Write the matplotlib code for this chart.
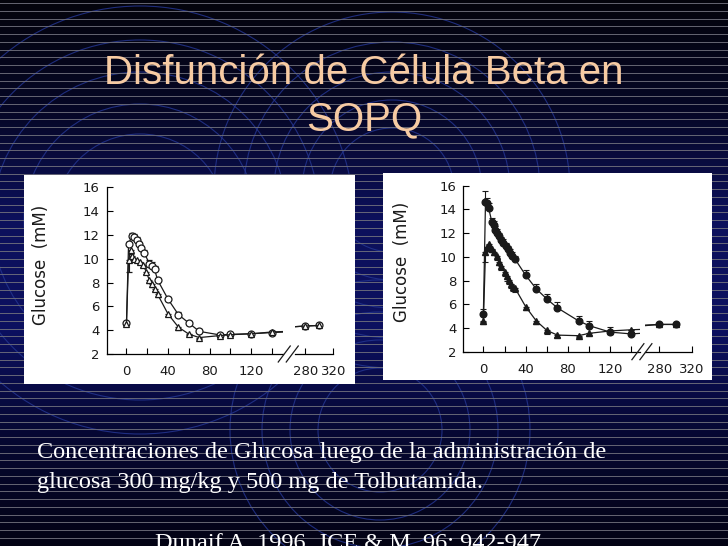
import numpy as np
import matplotlib.pyplot as plt
from matplotlib.patches import Rectangle, Circle
from matplotlib.lines import Line2D

W, H = 728, 546

#---------------------------------------------------------#
# Data (time in min, glucose in mM)
#---------------------------------------------------------#
# left panel, open symbols
t_l_circ = [0, 2, 5, 7, 10, 12, 14, 17, 22, 25, 27, 30, 40, 50, 60, 70, 90, 100, 120, 140, 280, 300]
g_l_circ = [4.6, 11.2, 11.9, 11.8, 11.6, 11.2, 10.9, 10.5, 9.6, 9.4, 9.1, 8.2, 6.6, 5.3, 4.6, 3.9, 3.6, 3.65, 3.7, 3.8, 4.35, 4.4]
e_l_circ = [0.1, 0.2, 0.3, 0.3, 0.2, 0.2, 0.2, 0.2, 0.3, 0.3, 0.3, 0.2, 0.2, 0.2, 0.2, 0.2, 0.1, 0.1, 0.1, 0.1, 0.1, 0.1]

t_l_tri = [0, 2, 4, 5, 7, 10, 13, 16, 19, 22, 25, 27, 30, 40, 50, 60, 70, 90, 100, 120, 140, 280, 300]
g_l_tri = [4.5, 9.9, 10.7, 10.2, 10.0, 9.9, 9.75, 9.5, 8.9, 8.2, 7.85, 7.5, 7.0, 5.35, 4.25, 3.67, 3.38, 3.55, 3.62, 3.7, 3.85, 4.35, 4.4]
e_l_tri = [0.1, 1.0, 0.3, 0.2, 0.2, 0.2, 0.2, 0.2, 0.2, 0.2, 0.2, 0.2, 0.2, 0.2, 0.2, 0.1, 0.1, 0.1, 0.1, 0.1, 0.1, 0.1, 0.1]

# right panel, filled symbols
t_r_circ = [0, 2, 3, 5, 8, 10, 11, 13, 15, 17, 19, 21, 23, 25, 27, 30, 40, 50, 60, 70, 90, 100, 120, 140, 280, 300]
g_r_circ = [5.2, 14.65, 14.5, 14.1, 12.95, 12.7, 12.3, 12.05, 11.75, 11.4, 11.2, 10.9, 10.65, 10.35, 10.1, 9.8, 8.45, 7.3, 6.45, 5.7, 4.6, 4.2, 3.65, 3.5, 4.3, 4.3]
e_r_circ_up = [0.4, 0.9, 0.5, 0.4, 0.3, 0.3, 0.3, 0.3, 0.3, 0.3, 0.3, 0.3, 0.3, 0.3, 0.3, 0.3, 0.4, 0.45, 0.45, 0.5, 0.45, 0.4, 0.4, 0.3, 0.1, 0.1]
e_r_circ_dn = [0.7, 0.1, 0.1, 0.1, 0.1, 0.1, 0.1, 0.1, 0.1, 0.1, 0.1, 0.1, 0.1, 0.1, 0.1, 0.1, 0.1, 0.1, 0.1, 0.1, 0.1, 0.1, 0.1, 0.1, 0.1, 0.1]

t_r_tri = [0, 2, 3, 5, 8, 10, 13, 15, 17, 20, 22, 24, 26, 28, 30, 40, 50, 60, 70, 90, 100, 120, 140, 280, 300]
g_r_tri = [4.6, 10.4, 10.8, 11.05, 10.7, 10.45, 10.05, 9.6, 9.2, 8.75, 8.35, 8.05, 7.75, 7.45, 7.35, 5.8, 4.6, 3.8, 3.4, 3.35, 3.55, 3.75, 3.85, 4.3, 4.3]
e_r_tri = [0.3, 0.8, 0.3, 0.3, 0.3, 0.3, 0.3, 0.3, 0.3, 0.35, 0.35, 0.35, 0.35, 0.35, 0.35, 0.3, 0.3, 0.3, 0.2, 0.15, 0.15, 0.15, 0.15, 0.1, 0.1]

yticks = [2, 4, 6, 8, 10, 12, 14, 16]
xticks_major = [0, 40, 80, 120]
xticks_minor = [20, 60, 100, 140]
xticks_late = [280, 320]

title_1 = 'Disfunción de Célula Beta en'
title_2 = 'SOPQ'
caption_1 = 'Concentraciones de Glucosa luego de la administración de'
caption_2 = 'glucosa 300 mg/kg y 500 mg de Tolbutamida.'
citation = 'Dunaif A, 1996, JCE & M, 96: 942-947'

#---------------------------------------------------------#
# Helpers
#---------------------------------------------------------#
def fig_rect(left, top, right, bottom):
    # pixel box (from top-left) -> figure fraction rect
    return [left / W, 1 - bottom / H, (right - left) / W, (bottom - top) / H]

sans = ['Liberation Sans', 'DejaVu Sans']
wide = ['DejaVu Sans']
serif = ['Liberation Serif', 'DejaVu Serif']

fig = plt.figure(figsize=(W / 100, H / 100), dpi=100)

#---------------------------------------------------------#
# Slide background
#---------------------------------------------------------#
bg = fig.add_axes([0, 0, 1, 1])
bg.set_xlim(0, W)
bg.set_ylim(H, 0)
bg.axis('off')

stops_y = [0, 110, 220, 330, 430, 546]
stops_c = [(4, 4, 12), (6, 7, 38), (12, 16, 92), (12, 16, 96), (6, 8, 52), (3, 3, 20)]
ys = np.arange(H)
grad = np.zeros((H, 1, 3))
for k in range(3):
    grad[:, 0, k] = np.interp(ys, stops_y, [c[k] for c in stops_c]) / 255
bg.imshow(grad, extent=[0, W, H, 0], aspect='auto', zorder=0)

for cx, cy, radii in [(140, 220, [214, 180, 148, 116, 86]),
                      (392, 190, [178, 148, 118, 90, 62]),
                      (380, 430, [150, 118, 90, 62])]:
    for r in radii:
        bg.add_patch(Circle((cx, cy), r, fill=False, ec='#23348f', lw=0.8, alpha=0.85, zorder=1))

for y in np.arange(3, H, 7.75):
    bg.axhline(y, color='#70707c', lw=0.7, alpha=0.9, zorder=2)

# white boxes holding the figures
bg.add_patch(Rectangle((24, 175), 331, 209, fc='white', ec='none', zorder=3))
bg.add_patch(Rectangle((383, 173), 329, 207, fc='white', ec='none', zorder=3))

#---------------------------------------------------------#
# Title and captions
#---------------------------------------------------------#
peach = '#f7cba3'
fig.text(364 / W, 1 - 73 / H, title_1, ha='center', va='center', color=peach, fontsize=29, family=sans)
fig.text(364 / W, 1 - 119 / H, title_2, ha='center', va='center', color=peach, fontsize=29, family=sans)
fig.text(37 / W, 1 - 458 / H, caption_1, ha='left', va='baseline', color='white', fontsize=17.5, family=serif)
fig.text(37 / W, 1 - 488 / H, caption_2, ha='left', va='baseline', color='white', fontsize=17.5, family=serif)
fig.text(348 / W, 1 - 549 / H, citation, ha='center', va='baseline', color='white', fontsize=17.5, family=serif)

#---------------------------------------------------------#
# Glucose curves
#---------------------------------------------------------#
def style_axis(ax, main):
    ax.set_facecolor('none')
    ax.set_ylim(2, 16)
    for s in ['top', 'right']:
        ax.spines[s].set_visible(False)
    ax.spines['bottom'].set_linewidth(0.9)
    ax.spines['left'].set_linewidth(0.9)
    ax.tick_params(direction='in', length=4.5, width=0.8, labelsize=9.5, pad=5, labelcolor='#1a1a1a')
    ax.tick_params(axis='x', pad=8)
    if main:
        ax.set_yticks(yticks)
        ax.set_xticks(xticks_major)
        ax.set_xticks(xticks_minor, minor=True)
        ax.tick_params(which='minor', direction='in', length=4.5, width=0.8)
    else:
        ax.spines['left'].set_visible(False)
        ax.set_yticks([])
        ax.set_xticks(xticks_late)
    for lab in ax.get_xticklabels() + ax.get_yticklabels():
        lab.set_family(wide)


def draw_series(ax, left_panel):
    kw = dict(color='#1a1a1a', lw=0.9, elinewidth=0.8, capsize=2, capthick=0.8, zorder=5)
    if left_panel:
        ax.errorbar(t_l_circ, g_l_circ, yerr=[np.zeros(len(e_l_circ)), e_l_circ], fmt='-o',
                    ms=5, mfc='white', mec='#1a1a1a', mew=0.9, **kw)
        ax.errorbar(t_l_tri, g_l_tri, yerr=[e_l_tri, np.zeros(len(e_l_tri))], fmt='-^',
                    ms=5, mfc='white', mec='#1a1a1a', mew=0.9, **kw)
    else:
        ax.errorbar(t_r_circ, g_r_circ, yerr=[e_r_circ_dn, e_r_circ_up], fmt='-o',
                    ms=4.8, mfc='#1a1a1a', mec='#1a1a1a', **kw)
        ax.errorbar(t_r_tri, g_r_tri, yerr=[e_r_tri, np.zeros(len(e_r_tri))], fmt='-^',
                    ms=3.8, mfc='#1a1a1a', mec='#1a1a1a', **kw)


panels = [
    # main axes box, late axes box, main x end, late x-range, y label position
    (True, (106.7, 187.3, 282.5, 354.0), (295.0, 187.3, 333.3, 354.0), 150, (265, 320), (41, 265)),
    (False, (463.3, 185.7, 639.8, 351.7), (645.0, 185.7, 691.7, 351.7), 148, (262, 320), (402, 262)),
]

for left_panel, box_a, box_b, x_end, late_lim, lab_pos in panels:
    ax = fig.add_axes(fig_rect(*box_a))
    axb = fig.add_axes(fig_rect(*box_b))
    draw_series(ax, left_panel)
    draw_series(axb, left_panel)
    ax.set_xlim(-19, x_end)
    axb.set_xlim(*late_lim)
    style_axis(ax, True)
    style_axis(axb, False)

    # axis break marks "//"
    xb = (box_a[2] + box_b[0]) / 2
    yb = box_a[3]
    for dx in (-4.5, 3.5):
        fig.add_artist(Line2D([(xb + dx - 6) / W, (xb + dx + 6) / W],
                              [1 - (yb + 8) / H, 1 - (yb - 8) / H],
                              color='#1a1a1a', lw=0.9))

    fig.text(lab_pos[0] / W, 1 - lab_pos[1] / H, 'Glucose  (mM)', rotation=90,
             ha='center', va='center', fontsize=12, color='#1a1a1a', family=wide)

fig.savefig('out.png', dpi=100)
